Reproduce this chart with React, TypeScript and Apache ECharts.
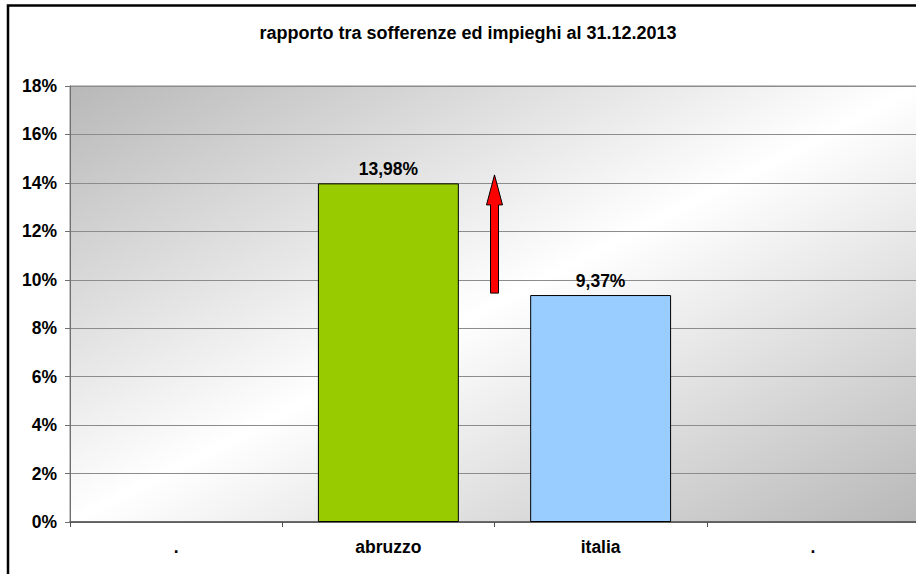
import React, { useEffect, useRef } from "react";
import * as echarts from "echarts";

const titleText = "rapporto tra sofferenze ed impieghi al 31.12.2013";
const categories = [".", "abruzzo", "italia", "."];
const values: (number | null)[] = [null, 13.98, 9.37, null];
const barColors = ["#99CC00", "#99CC00", "#99CCFF", "#99CCFF"];
const yTicks = [0, 2, 4, 6, 8, 10, 12, 14, 16, 18];
// arrow annotation: [category index it sits right of, from value, to value]
const arrowData = [[1, 9.45, 14.33]];

const FONT = "'Liberation Sans', Arial, sans-serif";

export default function App() {
  const ref = useRef<HTMLDivElement>(null);
  useEffect(() => {
    if (!ref.current) return;
    const chart = echarts.init(ref.current, undefined, { renderer: "svg" });
    chart.setOption({
      animation: false,
      backgroundColor: "#ffffff",
      textStyle: { fontFamily: FONT },
      graphic: [
        {
          type: "rect",
          z: 100,
          shape: { x: 8, y: 5.5, width: 960, height: 620 },
          style: { fill: "none", stroke: "#000", lineWidth: 2.5 },
          silent: true,
        },
        {
          type: "text",
          x: 468,
          y: 33,
          style: {
            text: titleText,
            textAlign: "center",
            textVerticalAlign: "middle",
            fontFamily: FONT,
            fontWeight: "bold",
            fontSize: 18,
            fill: "#000",
          },
        },
      ],
      grid: {
        show: true,
        left: 70,
        top: 86,
        width: 849,
        bottom: 52,
        outerBoundsMode: "none",
        containLabel: false,
        borderColor: "#888888",
        borderWidth: 1,
        backgroundColor: {
          type: "linear",
          x: 0,
          y: 0,
          x2: 1,
          y2: 1,
          colorStops: [
            { offset: 0, color: "#b8b8b8" },
            { offset: 0.5, color: "#ffffff" },
            { offset: 1, color: "#b8b8b8" },
          ],
        },
      },
      xAxis: {
        type: "category",
        data: categories,
        boundaryGap: true,
        axisLine: { show: true, lineStyle: { color: "#505050", width: 1.5 } },
        axisTick: { show: true, length: 5, alignWithLabel: false, lineStyle: { color: "#505050" } },
        axisLabel: {
          margin: 16,
          color: "#000",
          fontFamily: FONT,
          fontWeight: "bold",
          fontSize: 17.5,
        },
      },
      yAxis: {
        type: "value",
        min: yTicks[0],
        max: yTicks[yTicks.length - 1],
        interval: yTicks[1] - yTicks[0],
        axisLine: { show: true, lineStyle: { color: "#707070", width: 1 } },
        axisTick: { show: true, length: 5, lineStyle: { color: "#707070" } },
        splitLine: { show: true, lineStyle: { color: "#8c8c8c", width: 1 } },
        axisLabel: {
          margin: 13,
          color: "#000",
          fontFamily: FONT,
          fontWeight: "bold",
          fontSize: 17.5,
          formatter: (v: number) => `${v}%`,
        },
      },
      series: [
        {
          type: "bar",
          barWidth: "66.4%",
          data: values.map((v, i) =>
            v == null
              ? "-"
              : {
                  value: v,
                  itemStyle: { color: barColors[i], borderColor: "#000", borderWidth: 1 },
                }
          ),
          label: {
            show: true,
            position: "top",
            distance: 5,
            color: "#000",
            fontFamily: FONT,
            fontWeight: "bold",
            fontSize: 17.5,
            formatter: (p: any) => `${Number(p.value).toFixed(2).replace(".", ",")}%`,
          },
          z: 3,
        },
        {
          type: "custom",
          z: 5,
          data: arrowData,
          encode: { x: 0, y: [1, 2] },
          renderItem: (params: any, api: any) => {
            const idx = api.value(0);
            const from = api.value(1);
            const to = api.value(2);
            const base = api.coord([idx, from]);
            const tip = api.coord([idx, to]);
            const bw = api.size([1, 0])[0];
            const x = base[0] + bw / 2;
            const sw = 4;
            const hw = 8;
            const hh = 30;
            return {
              type: "polygon",
              shape: {
                points: [
                  [x - sw, base[1]],
                  [x - sw, tip[1] + hh],
                  [x - hw, tip[1] + hh],
                  [x, tip[1]],
                  [x + hw, tip[1] + hh],
                  [x + sw, tip[1] + hh],
                  [x + sw, base[1]],
                ],
              },
              style: { fill: "#ff0000", stroke: "#000", lineWidth: 1 },
            };
          },
        },
      ],
    });
    return () => chart.dispose();
  }, []);
  return (
    <div
      ref={ref}
      style={{ position: "fixed", left: 0, top: 0, width: 916, height: 574, background: "#fff" }}
    />
  );
}
